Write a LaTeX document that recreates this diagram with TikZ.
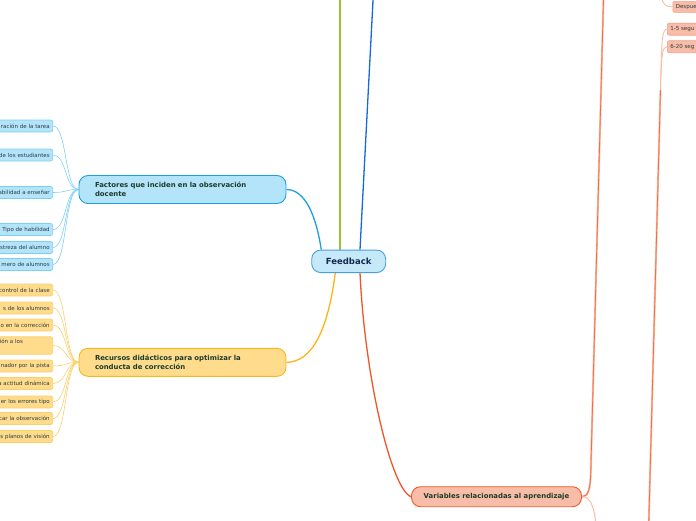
\documentclass[tikz,border=0pt]{standalone}
\usepackage{fontspec}
\setmainfont{DejaVu Sans}
\usetikzlibrary{backgrounds}
\definecolor{bfill}{HTML}{B3E4FA}
\definecolor{fbfill}{HTML}{C6E9FA}
\definecolor{fbdraw}{HTML}{4A9FD8}
\definecolor{facb}{HTML}{1D9FE0}
\definecolor{bleafb}{HTML}{7DD0F5}
\definecolor{ofill}{HTML}{FEDC8C}
\definecolor{recb}{HTML}{F8B71C}
\definecolor{oleafb}{HTML}{FBD06A}
\definecolor{rfill}{HTML}{F8BDA8}
\definecolor{varb}{HTML}{EF5A2B}
\definecolor{rleafb}{HTML}{F4A088}
\definecolor{cgreen}{HTML}{96C23C}
\definecolor{cblue}{HTML}{1668DC}
\definecolor{ccyan}{HTML}{1E9FE0}
\definecolor{corange}{HTML}{FDB414}
\definecolor{cred}{HTML}{F0552A}
\definecolor{sdark}{HTML}{F27048}
\definecolor{slight}{HTML}{F9BCA6}
\definecolor{leaftxt}{HTML}{2D3A40}
\definecolor{brtxt}{HTML}{1D3B2A}
\definecolor{fbtxt}{HTML}{14284B}
\begin{document}
\begin{tikzpicture}[x=1pt,y=-1pt,
  leafbase/.style={line width=0.6pt, rounded corners=2pt, inner xsep=3pt, inner ysep=0pt,
    minimum height=12pt, font=\fontsize{5.5}{6.6}\selectfont, text=leaftxt},
  bleaf/.style={leafbase, draw=bleafb, fill=bfill, anchor=east, text width=80pt, align=right},
  oleaf/.style={leafbase, draw=oleafb, fill=ofill, anchor=east, text width=80pt, align=right},
  rleaf/.style={leafbase, draw=rleafb, fill=rfill, anchor=west, text width=40pt, align=left},
  branch/.style={rounded corners=9pt, line width=0.9pt, inner ysep=0pt,
    font=\bfseries\fontsize{6.9}{8.7}\selectfont, text=brtxt},
  bconn/.style={draw=bleafb, line width=0.6pt},
  oconn/.style={draw=oleafb, line width=0.6pt},
  mainconn/.style={line width=1.3pt},
]
\useasboundingbox (0,0) rectangle (696,520);

% central node
\node[branch, draw=fbdraw, fill=fbfill, text=fbtxt, minimum width=74pt, minimum height=22.5pt,
  font=\bfseries\fontsize{8.5}{10}\selectfont] (fb) at (348.7,261.3) {Feedback};

% main branches
\node[branch, draw=facb, fill=bfill, text width=175pt, inner xsep=16pt, align=left,
  minimum height=28pt] (fac) at (182.5,189.5) {Factores que inciden en la observación\\docente};
\node[branch, draw=recb, fill=ofill, text width=175pt, inner xsep=16pt, align=left,
  minimum height=28pt] (rec) at (182.5,362.3) {Recursos didácticos para optimizar la\\conducta de corrección};
\node[branch, draw=varb, fill=rfill, minimum width=170pt, minimum height=20pt] (var) at (496.5,496.7) {Variables relacionadas al aprendizaje};

% blue leaves
\node[bleaf] (b1) at (53,126) {ración de la tarea};
\node[bleaf] (b2) at (53,155) {de los estudiantes};
\node[bleaf] (b3) at (53,192.5) {abilidad a enseñar};
\node[bleaf] (b4) at (53,229.5) {Tipo de habilidad};
\node[bleaf] (b5) at (53,247.5) {streza del alumno};
\node[bleaf] (b6) at (53,264.5) {mero de alumnos};

% orange leaves
\node[oleaf] (o1) at (53,290) {control de la clase};
\node[oleaf] (o2) at (53,308) {s de los alumnos};
\node[oleaf] (o3) at (53,325) {o en la corrección};
\node[oleaf, text width=53pt, align=left, minimum height=17.5pt] (o4) at (53,345.5) {ción a los\\\strut};
\node[oleaf] (o5) at (53,366) {nador por la pista};
\node[oleaf] (o6) at (53,383.5) {a actitud dinámica};
\node[oleaf] (o7) at (53,402) {er los errores tipo};
\node[oleaf] (o8) at (53,418.5) {car la observación};
\node[oleaf] (o9) at (53,436.5) {s planos de visión};

% right leaves
\node[rleaf, minimum height=11pt] (r0) at (672.5,6.8) {Despue};
\node[rleaf] (r1) at (667,29.2) {1-5 segu};
\node[rleaf] (r2) at (667,46.7) {6-20 seg};

% free ends
\coordinate (tg) at (340,-5);
\coordinate (tb) at (373.3,-5);
\coordinate (t1) at (603.6,-5);
\coordinate (t3) at (661.5,-5);
\coordinate (bv) at (596,525);
\coordinate (b2c) at (648.7,525);
\coordinate (k2) at (660.5,90);

\begin{scope}[on background layer]
  % center connectors
  \draw[mainconn, cgreen] ([xshift=-8.7pt]fb.north) -- (tg);
  \draw[mainconn, cblue] ([xshift=11.3pt]fb.north) -- (tb);
  \draw[mainconn, ccyan] ([xshift=10pt]fb.north west) .. controls (316,215) and (305,189.5) .. (fac.east);
  \draw[mainconn, corange] ([xshift=24pt]fb.south west) .. controls (328,330) and (312,362.3) .. (rec.east);
  \draw[mainconn, cred] ([xshift=11.3pt]fb.south) .. controls (365,380) and (392,490) .. (var.west);

  % blue leaf connectors
  \foreach \n in {b1,b2,b3,b4,b5,b6}
    \draw[bconn] (fac.west) .. controls +(-14,0) and +(14,0) .. (\n.east);
  % orange leaf connectors
  \foreach \n in {o1,o2,o3,o4,o5,o6,o7,o8,o9}
    \draw[oconn] (rec.west) .. controls +(-14,0) and +(14,0) .. (\n.east);

  % right side long lines
  \draw[slight, line width=2pt] (var.east) .. controls (588,496.7) and (590.5,490) .. (590.8,470) -- (t1);
  \draw[sdark, line width=0.8pt] (var.east) .. controls (588,496.7) and (590.5,490) .. (590.8,470) -- (t1);
  \draw[slight, line width=1pt] (var.east) .. controls (590,496.7) and (594,505) .. (bv);

  \draw[slight, line width=2pt] (b2c) -- (k2);
  \draw[sdark, line width=0.8pt] (b2c) -- (k2);
  \draw[slight, line width=0.9pt] (k2) .. controls (661.5,40) and (662,29.2) .. (r1.west);
  \draw[slight, line width=0.9pt] (k2) .. controls (661.5,55) and (662,46.7) .. (r2.west);
  \draw[slight, line width=0.9pt] (t3) .. controls (662,5) and (666,6.8) .. (r0.west);
\end{scope}
\end{tikzpicture}
\end{document}
